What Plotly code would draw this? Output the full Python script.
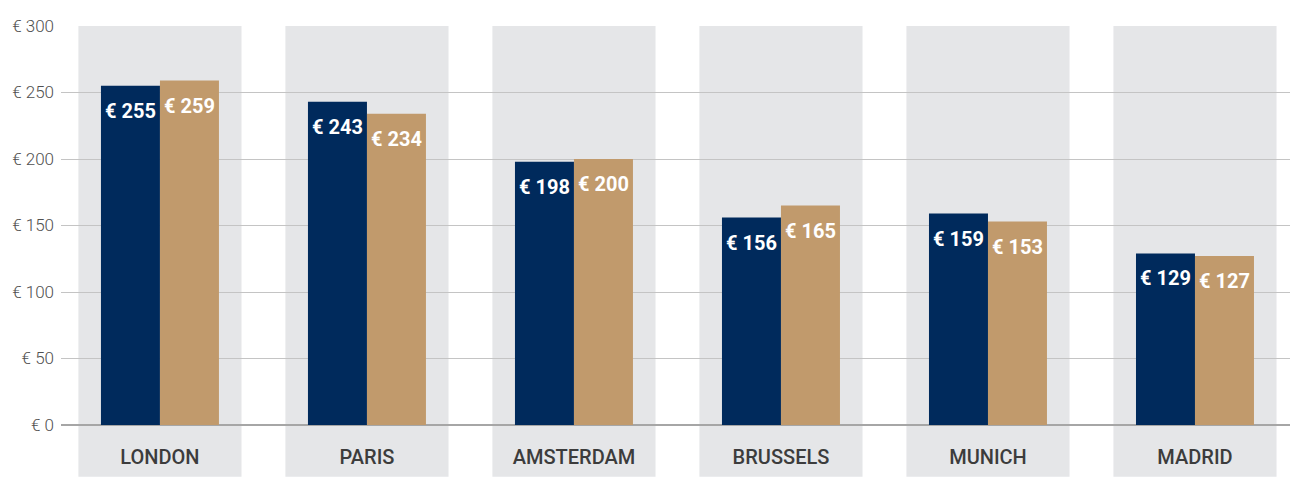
import plotly.graph_objects as go

# Average room rates per city (two series)
cities = ["LONDON", "PARIS", "AMSTERDAM", "BRUSSELS", "MUNICH", "MADRID"]
rate_a = [255, 243, 198, 156, 159, 129]
rate_b = [259, 234, 200, 165, 153, 127]
y_ticks = [0, 50, 100, 150, 200, 250, 300]
y_tick_text = [f"€ {v}" for v in y_ticks]

NAVY = "#002a5c"
TAN = "#c19a6c"
BAND = "#e5e6e8"

xpos = list(range(len(cities)))
bar_w = 0.285

fig = go.Figure()
fig.add_trace(go.Bar(x=[p - bar_w / 2 for p in xpos], y=rate_a, width=bar_w,
                     marker=dict(color=NAVY, line=dict(width=0)), showlegend=False,
                     hoverinfo="y"))
fig.add_trace(go.Bar(x=[p + bar_w / 2 for p in xpos], y=rate_b, width=bar_w,
                     marker=dict(color=TAN, line=dict(width=0)), showlegend=False,
                     hoverinfo="y"))

# grey column band behind each city, running down behind the city name
shapes = []
for p in xpos:
    shapes.append(dict(type="rect", xref="x", yref="paper", x0=p - 0.394, x1=p + 0.394,
                       y0=-0.13, y1=1.0, fillcolor=BAND, line=dict(width=0), layer="below"))

annotations = []
for p, a, b in zip(xpos, rate_a, rate_b):
    for xv, v in ((p - bar_w / 2, a), (p + bar_w / 2, b)):
        annotations.append(dict(x=xv, y=v, xref="x", yref="y", text=f"€ {v}",
                                showarrow=False, yanchor="top", yshift=-11,
                                font=dict(family="Roboto", size=20, color="white", weight="bold")))

fig.update_layout(
    width=1290, height=478,
    margin=dict(l=61, r=0, t=26, b=53),
    paper_bgcolor="white", plot_bgcolor="rgba(0,0,0,0)",
    shapes=shapes, annotations=annotations,
    barmode="overlay",
    xaxis=dict(range=[-0.478, 5.459], tickvals=xpos, ticktext=cities,
               showgrid=False, zeroline=False, showline=False,
               ticks="outside", ticklen=14, tickcolor="rgba(0,0,0,0)",
               tickfont=dict(family="Roboto", size=20, color="#3c3c3c", weight=500)),
    yaxis=dict(range=[0, 300], tickvals=y_ticks, ticktext=y_tick_text,
               showgrid=True, gridcolor="#c4c4c4", gridwidth=1,
               zeroline=True, zerolinecolor="#a6a6a6", zerolinewidth=2,
               showline=False, ticks="", ticklabelstandoff=6,
               tickfont=dict(family="Roboto", size=17, color="#505050", weight=300)),
)

fig.write_html("out.html")
